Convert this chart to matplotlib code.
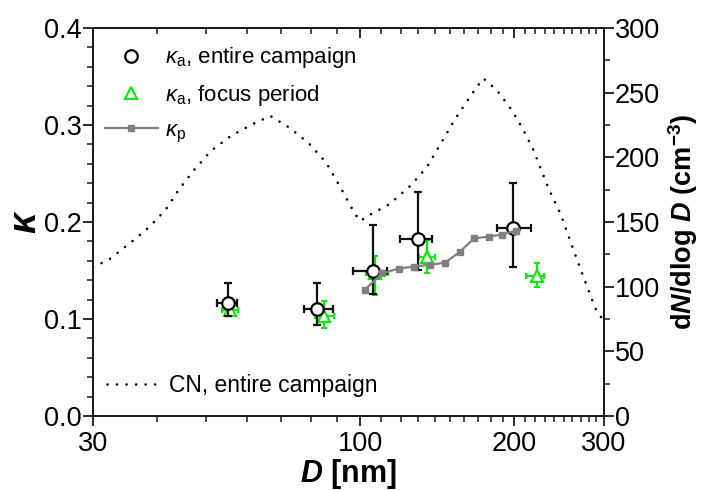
import matplotlib
matplotlib.use('Agg')
import matplotlib.pyplot as plt
from matplotlib.ticker import FixedLocator, NullFormatter, FuncFormatter, MultipleLocator
from matplotlib.lines import Line2D

plt.rcParams['font.family'] = ['Liberation Sans', 'DejaVu Sans']
plt.rcParams['mathtext.fontset'] = 'custom'
plt.rcParams['mathtext.rm'] = 'Liberation Sans'
plt.rcParams['mathtext.it'] = 'Liberation Sans:italic'
plt.rcParams['mathtext.bf'] = 'Liberation Sans:bold'
try:
    plt.rcParams['mathtext.bfit'] = 'Liberation Sans:bold:italic'
except Exception:
    pass

# ---- data ----
# kappa_a, entire campaign
d_all = [55.2, 82.5, 106, 129.6, 199]
d_all_lo = [2.8, 5.0, 9.0, 10.2, 13.4]
d_all_hi = [2.2, 6.0, 6.6, 8.7, 17.0]
k_all = [0.117, 0.110, 0.150, 0.182, 0.194]
k_all_lo = [0.014, 0.016, 0.024, 0.031, 0.040]
k_all_hi = [0.020, 0.027, 0.047, 0.049, 0.046]

# kappa_a, focus period
d_foc = [55.7, 85.1, 107, 135, 222]
d_foc_lo = [2.0, 3.6, 4.4, 4.5, 11.0]
d_foc_hi = [2.0, 3.7, 6.6, 5.0, 7.0]
k_foc = [0.109, 0.103, 0.147, 0.164, 0.144]
k_foc_lo = [0.006, 0.012, 0.022, 0.017, 0.011]
k_foc_hi = [0.006, 0.016, 0.018, 0.017, 0.014]

# kappa_p
d_p = [102.0, 110.4, 118.9, 127.5, 137.0, 146.5, 156.5, 167.0, 178.3, 189.2, 201.4]
k_p = [0.130, 0.147, 0.152, 0.154, 0.156, 0.158, 0.169, 0.183, 0.185, 0.187, 0.191]

# CN size distribution, entire campaign
d_cn = [30.0, 32.3, 35.4, 38.6, 41.6, 44.1, 47.3, 51.1, 55.8, 61.1, 66.7, 72.7, 79.3,
        85.8, 92.5, 97.5, 100.0, 104.3, 114.2, 125.2, 135.0, 145.4, 153.3, 164.0,
        174.1, 185.0, 198.0, 208.6, 218.3, 233.6, 246.4, 265.8, 288.4, 300.0]
n_cn = [115.0, 121.2, 133.5, 145.9, 159.3, 174.7, 190.2, 205.1, 216.5, 225.0, 232.0,
        222.9, 210.9, 195.9, 173.4, 156.7, 150.8, 155.4, 163.9, 177.8, 192.3, 214.0,
        229.4, 246.9, 261.1, 252.0, 236.6, 221.1, 205.7, 176.0, 156.7, 120.6, 83.3, 73.0]

x_major = [30, 100, 200, 300]
x_minor = [40, 50, 60, 70, 80, 90, 110, 120, 130, 140, 150, 160, 170, 180, 190,
           210, 220, 230, 240, 250, 260, 270, 280, 290]

# ---- figure ----
fig = plt.figure(figsize=(7.08, 4.90), dpi=100)
L, R, T, B = 93, 604, 28, 416
ax = fig.add_axes([L / 708, 1 - B / 490, (R - L) / 708, (B - T) / 490])
ax2 = ax.twinx()

spine_c = '#1a1a1a'
green = '#00ee00'
gray = '#808080'

ax.errorbar(d_foc, k_foc, yerr=[k_foc_lo, k_foc_hi], xerr=[d_foc_lo, d_foc_hi],
            fmt='^', ms=9, mfc='white', mec=green, mew=1.5, ecolor=green,
            elinewidth=1.5, capsize=2.5, capthick=1.5, zorder=3)
ax.errorbar(d_all, k_all, yerr=[k_all_lo, k_all_hi], xerr=[d_all_lo, d_all_hi],
            fmt='o', ms=9, mfc='white', mec='black', mew=1.6, ecolor='#111111',
            elinewidth=1.6, capsize=3, capthick=1.6, zorder=4)
line_p, = ax.plot(d_p, k_p, '-', color=gray, lw=1.6, marker='s', ms=5, mfc=gray,
                  mec=gray, zorder=5)

line_cn, = ax2.plot(d_cn, n_cn, color='black', lw=1.9, linestyle=(0, (0.01, 3.6)),
                    dash_capstyle='round')

ax.set_xscale('log')
ax.set_xlim(30, 300)
ax.set_ylim(0, 0.4)
ax2.set_ylim(0, 300)

ax.xaxis.set_major_locator(FixedLocator(x_major))
ax.xaxis.set_major_formatter(FuncFormatter(lambda v, p: f'{v:g}'))
ax.xaxis.set_minor_locator(FixedLocator(x_minor))
ax.xaxis.set_minor_formatter(NullFormatter())
ax.yaxis.set_major_locator(MultipleLocator(0.1))
ax.yaxis.set_major_formatter(FuncFormatter(lambda v, p: f'{v:.1f}'))
ax.yaxis.set_minor_locator(MultipleLocator(0.02))
ax2.yaxis.set_major_locator(MultipleLocator(50))
ax2.yaxis.set_minor_locator(MultipleLocator(25))

tick_fs = 19.5
ax.tick_params(axis='x', which='both', direction='out', top=False, labelsize=tick_fs,
               color=spine_c, pad=4)
ax.tick_params(axis='x', which='major', length=7, width=1.3)
ax.tick_params(axis='x', which='minor', length=4, width=1.1)
ax.tick_params(axis='y', which='both', direction='out', right=False, labelsize=tick_fs,
               color=spine_c, pad=1)
ax.tick_params(axis='y', which='major', length=7, width=1.3)
ax.tick_params(axis='y', which='minor', length=4, width=1.1)
ax2.tick_params(axis='y', which='both', direction='out', labelsize=tick_fs, color=spine_c, pad=1)
ax2.tick_params(axis='y', which='major', length=7, width=1.3)
ax2.tick_params(axis='y', which='minor', length=4, width=1.1)

secx = ax.secondary_xaxis('top')
secx.xaxis.set_major_locator(FixedLocator(x_major))
secx.xaxis.set_minor_locator(FixedLocator(x_minor))
secx.xaxis.set_minor_formatter(NullFormatter())
secx.tick_params(axis='x', which='both', direction='in', labeltop=False, color=spine_c)
secx.tick_params(axis='x', which='major', length=7, width=1.3)
secx.tick_params(axis='x', which='minor', length=4, width=1.1)
secx.spines['top'].set_linewidth(1.3)
secx.spines['top'].set_color(spine_c)

for a in (ax, ax2):
    for s in a.spines.values():
        s.set_linewidth(1.3)
        s.set_color(spine_c)

ax.set_xlabel(r'$\boldsymbol{D}$ [nm]', fontsize=22, fontweight='bold', labelpad=0)
ax.set_ylabel(r'$\boldsymbol{\kappa}$', fontsize=27, labelpad=0)
ax2.set_ylabel(r'd$\boldsymbol{N}$/dlog $\boldsymbol{D}$ (cm$^{\mathbf{-3}}$)',
               fontsize=19.5, fontweight='bold', labelpad=4)

h_all = Line2D([], [], ls='none', marker='o', ms=9, mfc='white', mec='black', mew=1.6)
h_foc = Line2D([], [], ls='none', marker='^', ms=9, mfc='white', mec=green, mew=1.5)
leg = ax.legend([h_all, h_foc, line_p],
                [r'$\kappa_{\mathrm{a}}$, entire campaign',
                 r'$\kappa_{\mathrm{a}}$, focus period',
                 r'$\kappa_{\mathrm{p}}$'],
                loc='upper left', bbox_to_anchor=(0.023, 0.955), frameon=False,
                fontsize=16, handlelength=2.4, handletextpad=0.3, labelspacing=0.55,
                borderpad=0, borderaxespad=0, numpoints=1)
leg2 = ax2.legend([line_cn], ['CN, entire campaign'], loc='lower left',
                  bbox_to_anchor=(0.027, 0.05), frameon=False, fontsize=16.5,
                  handlelength=2.4, handletextpad=0.3, borderpad=0, borderaxespad=0)

fig.savefig('out.png', dpi=100)
